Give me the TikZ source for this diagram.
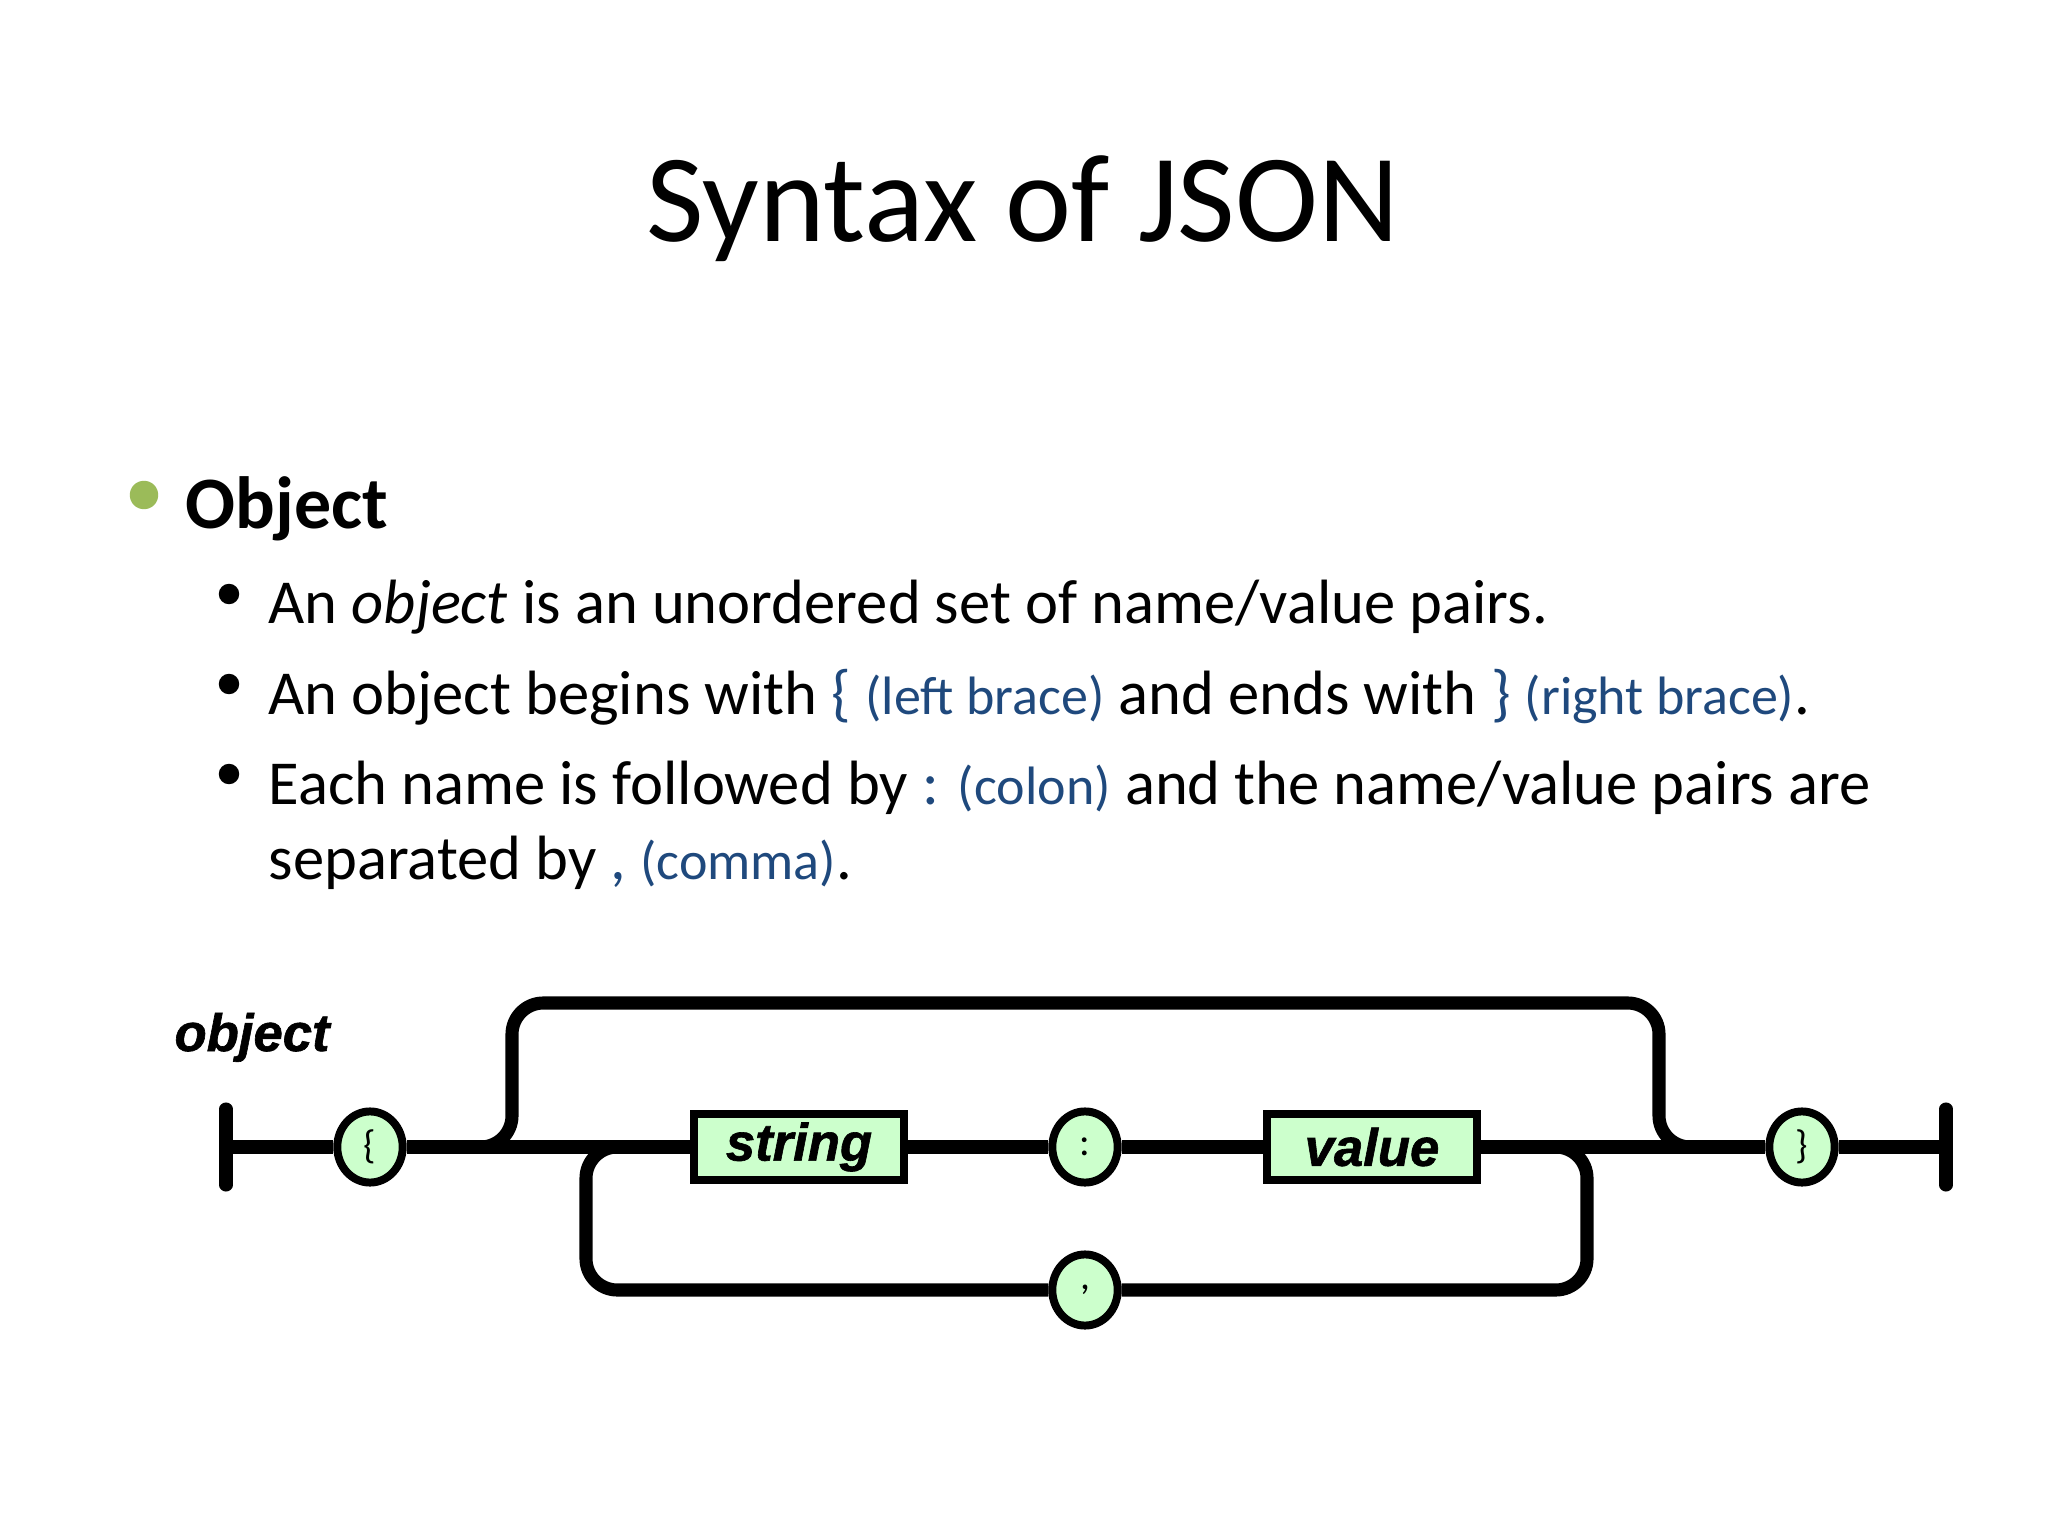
\documentclass[tikz,border=0pt]{standalone}
\usepackage{fontspec}
\setmainfont{Carlito}
\newfontfamily\railfont[BoldItalicFeatures={FakeBold=1.2}]{Liberation Sans}
\usepackage{tikz}
\usetikzlibrary{shapes.geometric,positioning,calc}

\definecolor{railgreen}{RGB}{204,255,204}
\definecolor{bulletgreen}{RGB}{155,187,89}
\definecolor{noteblue}{RGB}{31,73,125}
\newcommand{\note}[1]{\textcolor{noteblue}{#1}}
\newcommand{\aside}{\fontsize{19}{23}\selectfont}

\tikzset{
  rail/.style={line width=4.6pt},
  bar/.style={line width=4.6pt, line cap=round},
  railbox/.style={draw, line width=2.8pt, fill=railgreen, minimum width=74pt,
    minimum height=23pt, inner sep=0pt,
    font=\railfont\bfseries\itshape\fontsize{18.5}{18.5}\selectfont},
  railtok/.style={ellipse, draw, line width=2.8pt, fill=railgreen, minimum width=23pt,
    minimum height=25pt, inner sep=0pt, font=\fontsize{14}{14}\selectfont},
  txt/.style={anchor=base west, inner sep=0pt, font=\fontsize{22}{27}\selectfont}
}

\begin{document}
\begin{tikzpicture}[x=0.35156pt, y=-0.35156pt]
\useasboundingbox (0,0) rectangle (2048,1536);

% title and bullets
\node (title) at (1023,242) [anchor=base, inner sep=0pt, font=\fontsize{44}{53}\selectfont] {Syntax of JSON};
\fill[bulletgreen] (144,495) circle (5pt);
\node (head) at (185,529) [anchor=base west, inner sep=0pt, font=\fontsize{26}{31}\selectfont\bfseries] {Object};
\fill (229,594) circle (3.6pt);
\fill (229,684) circle (3.6pt);
\fill (229,774) circle (3.6pt);
\node[txt] (line1) at (268,624) {An \textit{object} is an unordered set of name/value pairs.};
\node[txt] (line2) at (268,714) {An object begins with \note{\{ {\aside(left brace)}} and ends with \note{\} {\aside(right brace)}}.};
\node[txt] (line3) at (268,804) {Each name is followed by \note{: {\aside(colon)}} and the name/value pairs are};
\node[txt] (line4) at (268,879) {separated by \note{, {\aside(comma)}}.};

% railroad diagram
\node (objlabel) at (174,1051) [anchor=base west, inner sep=0pt, font=\railfont\bfseries\itshape\fontsize{18.5}{18.5}\selectfont] {object};
\coordinate (begin) at (226,1147);
\coordinate (end) at (1946,1147);
\node[railtok] (lbrace) at (370,1147) {\{};
\node[railbox] (name) at (799,1147) {string};
\node[railtok] (colon) at (1085,1147) {:};
\node[railbox] (val) at (1372,1147) {value};
\node[railtok] (rbrace) at (1802,1147) {\}};
\node[railtok] (comma) at (1085,1290) {,};

\draw[bar] (begin) ++(0,-38) -- ++(0,76); % start bar
\draw[bar] (end) ++(0,-38) -- ++(0,76); % end bar
\draw[rail] (begin) -- (lbrace);
\draw[rail] (lbrace) -- (name);
\draw[rail] (name) -- (colon);
\draw[rail] (colon) -- (val);
\draw[rail] (val) -- (rbrace);
\draw[rail] (rbrace) -- (end);

% empty object: skip over the pairs
\coordinate (forkL) at (470,1147);
\coordinate (forkR) at (1700,1147);
\coordinate (topL) at (512,1003);
\coordinate (topR) at (1659,1003);
\draw[rail, rounded corners=11pt] (forkL) -| (topL) -- (topR) |- (forkR);

% more pairs: loop back through the comma
\coordinate (loopL) at (586,1147);
\coordinate (loopR) at (1587,1147);
\draw[rail, rounded corners=11pt] (comma.west) -| (loopL) -- ++(45,0);
\draw[rail, rounded corners=11pt] (comma.east) -| (loopR) -- ++(-45,0);
\end{tikzpicture}
\end{document}
